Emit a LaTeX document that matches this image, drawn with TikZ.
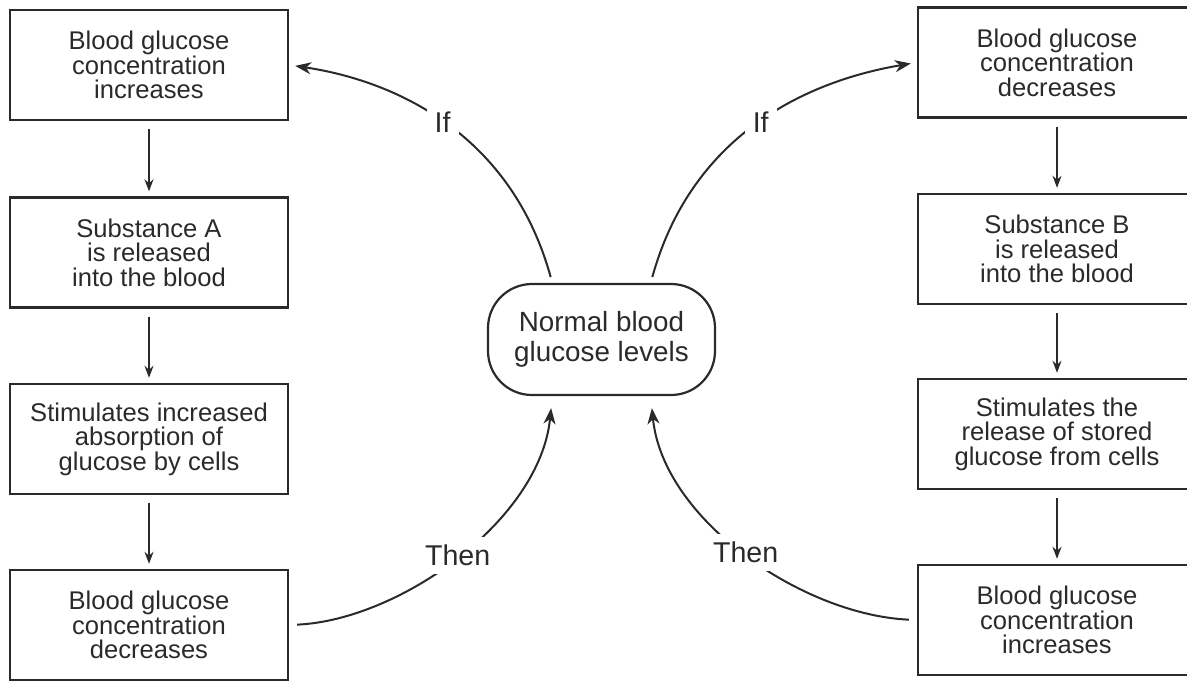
\documentclass[tikz,border=0pt]{standalone}
\usepackage{fontspec}
\setmainfont{Liberation Sans}
\usetikzlibrary{arrows.meta}
\definecolor{ink}{HTML}{2A2A2A}
\tikzset{
  box/.style={draw=ink, line width=1.2pt, rectangle, minimum width=139pt, minimum height=55pt, inner sep=0pt, align=center, text=ink, font=\fontsize{12.8}{12.3}\selectfont},
  hub/.style={draw=ink, line width=1.1pt, rectangle, rounded corners=22pt, minimum width=113.5pt, minimum height=55.5pt, align=center, text=ink, font=\fontsize{13.9}{15}\selectfont},
  down/.style={draw=ink, line width=0.8pt, -{Stealth[length=6pt,width=4.5pt]}, shorten <=4pt, shorten >=2.5pt},
  loopline/.style={draw=ink, line width=1pt, -{Stealth[length=8pt,width=6pt,inset=2.5pt]}},
  lbl/.style={fill=white, text=ink, inner sep=4pt, font=\fontsize{14.3}{15}\selectfont}
}
\begin{document}
\begin{tikzpicture}[x=0.5pt, y=-0.5pt]
  \useasboundingbox (0,0) rectangle (1187,681);
  \clip (0,0) rectangle (1187,681);

  % left column
  \node[box] (L1) at (149, 65) {Blood glucose\\concentration\\increases};
  \node[box] (L2) at (149, 252.5) {Substance A\\is released\\into the blood};
  \node[box] (L3) at (149, 439) {Stimulates increased\\absorption of\\glucose by cells};
  \node[box] (L4) at (149, 625) {Blood glucose\\concentration\\decreases};

  % right column
  \node[box] (R1) at (1057, 62.5) {Blood glucose\\concentration\\decreases};
  \node[box] (R2) at (1057, 249) {Substance B\\is released\\into the blood};
  \node[box] (R3) at (1057, 434) {Stimulates the\\release of stored\\glucose from cells};
  \node[box] (R4) at (1057, 620) {Blood glucose\\concentration\\increases};

  \node[hub] (N) at (601.5, 339.5) {Normal blood\\glucose levels};

  \draw[down] (L1) -- (L2);
  \draw[down] (L2) -- (L3);
  \draw[down] (L3) -- (L4);
  \draw[down] (R1) -- (R2);
  \draw[down] (R2) -- (R3);
  \draw[down] (R3) -- (R4);

  % feedback loops
  \draw[loopline, shorten <=3pt, shorten >=3pt] (N.131) .. controls (510,130) and (390,80) .. (L1.east) node[lbl, pos=0.5] {If};
  \draw[loopline, shorten <=3pt, shorten >=3pt] (N.49) .. controls (693,130) and (813,80) .. (R1.west) node[lbl, pos=0.5] {If};
  \draw[loopline, shorten <=4pt, shorten >=6pt] (L4.east) .. controls (400,620) and (540,520) .. (N.-131) node[lbl, pos=0.5] {Then};
  \draw[loopline, shorten <=4pt, shorten >=6pt] (R4.west) .. controls (803,615) and (663,520) .. (N.-49) node[lbl, pos=0.5] {Then};
\end{tikzpicture}
\end{document}
